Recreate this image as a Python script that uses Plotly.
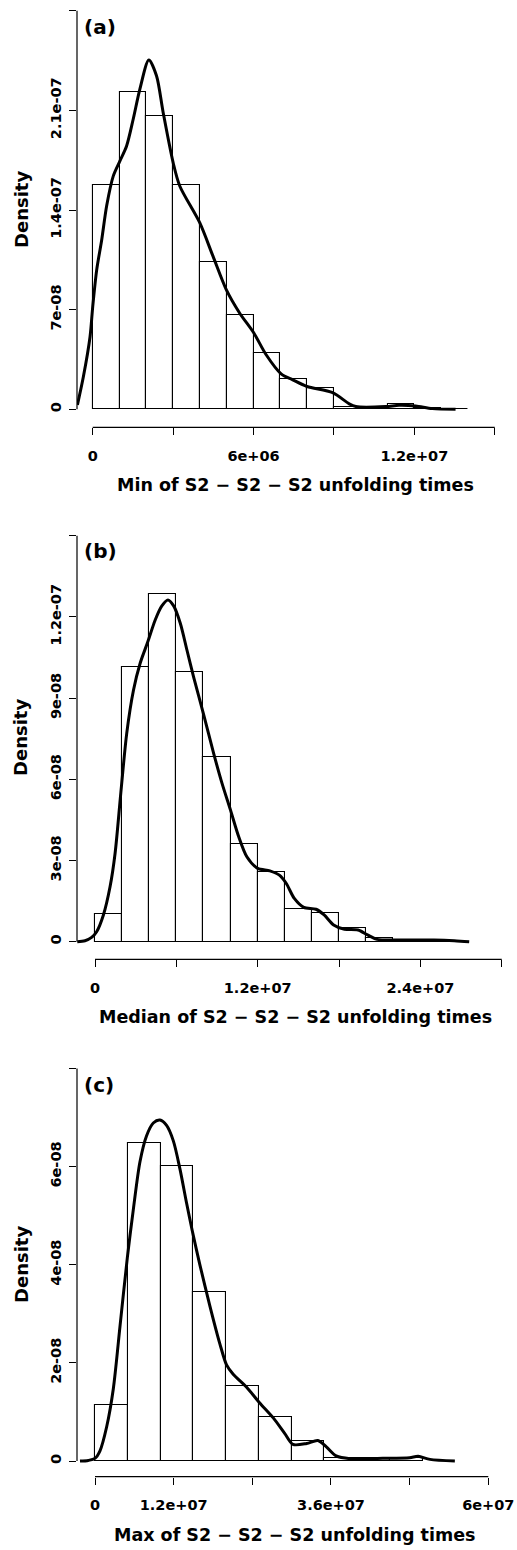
import plotly.graph_objects as go

W, H = 517, 1550

# ---------------- data ----------------
# Panel (a): Min of S2-S2-S2 unfolding times
a_bin_width = 1e6
a_bin_left = [0, 1e6, 2e6, 3e6, 4e6, 5e6, 6e6, 7e6, 8e6, 9e6, 10e6, 11e6, 12e6, 13e6]
a_density_hist = [1.576e-7, 2.227e-7, 2.062e-7, 1.576e-7, 1.036e-7, 6.65e-8, 3.99e-8,
                  2.14e-8, 1.48e-8, 1.5e-9, 0.0, 4.0e-9, 1.0e-9, 5e-10]
a_kde_x = [-0.57e6, -0.347e6, -0.099e6, 0.0, 0.149e6, 0.335e6, 0.521e6, 0.769e6, 1.016e6,
           1.264e6, 1.512e6, 1.76e6, 2.095e6, 2.38e6, 2.628e6, 3.0e6, 3.248e6, 3.992e6,
           4.487e6, 4.983e6, 5.479e6, 6.012e6, 6.471e6, 7.029e6, 7.462e6, 7.995e6, 8.95e6,
           9.57e6, 9.818e6, 10.933e6, 11.429e6, 12.049e6, 12.669e6, 13.537e6]
a_kde_y = [3.1e-9, 2.3e-8, 5.1e-8, 7.2e-8, 9.8e-8, 1.19e-7, 1.43e-7, 1.64e-7, 1.745e-7,
           1.85e-7, 2.04e-7, 2.25e-7, 2.455e-7, 2.344e-7, 2.086e-7, 1.734e-7, 1.569e-7,
           1.311e-7, 1.076e-7, 8.41e-8, 6.77e-8, 5.36e-8, 3.83e-8, 2.49e-8, 2.07e-8, 1.6e-8,
           1.17e-8, 3.8e-9, 1.9e-9, 1.9e-9, 2.8e-9, 2.3e-9, 4.7e-10, 0.0]
a_xticks = [0, 3e6, 6e6, 9e6, 12e6, 15e6]
a_xticktext = ["0", "", "6e+06", "", "1.2e+07", ""]
a_yticks = [0, 7e-8, 1.4e-7, 2.1e-7, 2.8e-7]
a_yticktext = ["0", "7e-08", "1.4e-07", "2.1e-07", ""]

# Panel (b): Median
b_bin_width = 2e6
b_bin_left = [0, 2e6, 4e6, 6e6, 8e6, 10e6, 12e6, 14e6, 16e6, 18e6, 20e6, 22e6, 24e6]
b_density_hist = [1.01e-8, 1.016e-7, 1.284e-7, 9.98e-8, 6.84e-8, 3.61e-8, 2.59e-8,
                  1.2e-8, 1.07e-8, 5.2e-9, 1.2e-9, 6e-10, 6e-10]
b_kde_x = [-1.307e6, -0.74e6, -0.25e6, 0.12e6, 0.62e6, 1.11e6, 1.48e6, 1.9e6, 2.34e6,
           2.84e6, 3.33e6, 3.9e6, 4.44e6, 4.93e6, 5.38e6, 5.8e6, 6.29e6, 6.78e6, 7.27e6,
           7.99e6, 8.75e6, 9.37e6, 9.99e6, 10.6e6, 11.2e6, 12.0e6, 12.9e6, 13.6e6, 14.1e6,
           14.7e6, 15.4e6, 16.3e6, 16.9e6, 17.6e6, 18.4e6, 19.4e6, 20.1e6, 20.8e6, 22.6e6,
           25.0e6, 26.5e6, 27.6e6]
b_kde_y = [0.0, 3.7e-10, 1.6e-9, 3.7e-9, 9.9e-9, 2.03e-8, 3.26e-8, 5.48e-8, 7.7e-8,
           9.3e-8, 1.029e-7, 1.109e-7, 1.189e-7, 1.241e-7, 1.263e-7, 1.241e-7, 1.177e-7,
           1.078e-7, 9.79e-8, 8.44e-8, 6.96e-8, 5.85e-8, 4.87e-8, 3.88e-8, 3.14e-8, 2.71e-8,
           2.62e-8, 2.46e-8, 2.16e-8, 1.6e-8, 1.27e-8, 1.2e-8, 9.9e-9, 6.2e-9, 4.6e-9,
           4.3e-9, 2.5e-9, 8.6e-10, 6.2e-10, 6.2e-10, 3.7e-10, 0.0]
b_xticks = [0, 6e6, 12e6, 18e6, 24e6, 30e6]
b_xticktext = ["0", "", "1.2e+07", "", "2.4e+07", ""]
b_yticks = [0, 3e-8, 6e-8, 9e-8, 1.2e-7, 1.5e-7]
b_yticktext = ["0", "3e-08", "6e-08", "9e-08", "1.2e-07", ""]

# Panel (c): Max
c_bin_width = 5e6
c_bin_left = [0, 5e6, 10e6, 15e6, 20e6, 25e6, 30e6, 35e6, 40e6, 45e6]
c_density_hist = [1.137e-8, 6.477e-8, 6.014e-8, 3.439e-8, 1.523e-8, 8.91e-9, 4.0e-9,
                  5.6e-10, 5.6e-10, 7e-10]
c_kde_x = [-2.29e6, -1.02e6, 0.0, 0.76e6, 1.78e6, 2.79e6, 3.81e6, 4.93e6, 5.84e6, 6.86e6,
           7.87e6, 8.89e6, 9.91e6, 10.92e6, 11.94e6, 12.95e6, 13.97e6, 14.83e6, 16.0e6,
           17.53e6, 19.05e6, 20.07e6, 21.08e6, 23.1e6, 25.1e6, 27.2e6, 28.96e6, 30.2e6,
           32.3e6, 34.0e6, 35.3e6, 36.8e6, 38.9e6, 43.9e6, 48.0e6, 49.3e6, 51.1e6, 54.9e6]
c_kde_y = [0.0, 1.4e-10, 5.6e-10, 2.1e-9, 7.0e-9, 1.47e-8, 2.74e-8, 4.14e-8, 5.12e-8,
           6.1e-8, 6.63e-8, 6.89e-8, 6.95e-8, 6.84e-8, 6.53e-8, 5.96e-8, 5.26e-8, 4.7e-8,
           4.0e-8, 3.16e-8, 2.39e-8, 1.96e-8, 1.77e-8, 1.51e-8, 1.19e-8, 8.8e-9, 5.6e-9,
           3.4e-9, 3.6e-9, 4.2e-9, 2.9e-9, 1.05e-9, 4.9e-10, 5.6e-10, 7e-10, 9.8e-10,
           3.5e-10, 0.0]
c_xticks = [0, 12e6, 24e6, 36e6, 48e6, 60e6]
c_xticktext = ["0", "1.2e+07", "", "3.6e+07", "", "6e+07"]
c_yticks = [0, 2e-8, 4e-8, 6e-8, 8e-8]
c_yticktext = ["0", "2e-08", "4e-08", "6e-08", ""]

panel_tags = ["(a)", "(b)", "(c)"]
x_titles = ["Min of S2 \u2212 S2 \u2212 S2 unfolding times",
            "Median of S2 \u2212 S2 \u2212 S2 unfolding times",
            "Max of S2 \u2212 S2 \u2212 S2 unfolding times"]
y_title = "Density"

panels = [
    dict(bl=a_bin_left, bw=a_bin_width, bh=a_density_hist, kx=a_kde_x, ky=a_kde_y,
         xt=a_xticks, xtt=a_xticktext, yt=a_yticks, ytt=a_yticktext),
    dict(bl=b_bin_left, bw=b_bin_width, bh=b_density_hist, kx=b_kde_x, ky=b_kde_y,
         xt=b_xticks, xtt=b_xticktext, yt=b_yticks, ytt=b_yticktext),
    dict(bl=c_bin_left, bw=c_bin_width, bh=c_density_hist, kx=c_kde_x, ky=c_kde_y,
         xt=c_xticks, xtt=c_xticktext, yt=c_yticks, ytt=c_yticktext),
]

# ---------------- layout geometry (pixels) ----------------
geom = [
    dict(px=(77, 513), py=(0, 427.3), xr=(-0.586e6, 15.68e6), yr=(-1.265e-8, 2.876e-7)),
    dict(px=(77, 513), py=(510, 959.3), xr=(-1.328e6, 30.83e6), yr=(-6.5e-9, 1.5953e-7)),
    dict(px=(77, 513), py=(1050, 1476.6), xr=(-2.746e6, 63.77e6), yr=(-3.158e-9, 8.377e-8)),
]

FONT = "DejaVu Sans"
fig = go.Figure()
layout = dict(width=W, height=H, margin=dict(l=0, r=0, t=0, b=0),
              paper_bgcolor="white", plot_bgcolor="white", showlegend=False)
shapes = []
annotations = []


def fx(p):
    return p / W


def fy(p):
    return 1 - p / H


for i, (p, g) in enumerate(zip(panels, geom)):
    n = "" if i == 0 else str(i + 1)
    xa, ya = "x" + n, "y" + n
    centers = [l + p["bw"] / 2 for l in p["bl"]]
    fig.add_trace(go.Bar(x=centers, y=p["bh"], width=p["bw"], xaxis=xa, yaxis=ya,
                         marker=dict(color="white", line=dict(color="black", width=1.1))))
    fig.add_trace(go.Scatter(x=p["kx"], y=p["ky"], mode="lines", xaxis=xa, yaxis=ya,
                             line=dict(color="black", width=3, shape="spline", smoothing=0.8)))
    common = dict(showgrid=False, zeroline=False, showline=False, ticks="outside",
                  ticklen=7, tickwidth=1.2, tickcolor="black",
                  tickfont=dict(family=FONT, size=14.5, color="black", weight="bold"),
                  tickmode="array")
    layout["xaxis" + n] = dict(common, domain=[fx(g["px"][0]), fx(g["px"][1])],
                               range=list(g["xr"]), anchor=ya, tickvals=p["xt"],
                               ticktext=p["xtt"], tickangle=0, ticklabelstandoff=8)
    layout["yaxis" + n] = dict(common, domain=[fy(g["py"][1]), fy(g["py"][0])],
                               range=list(g["yr"]), anchor=xa, tickvals=p["yt"],
                               ticktext=p["ytt"], tickangle=-90, ticklabelstandoff=2)
    # R-style axis lines spanning first..last tick
    shapes.append(dict(type="line", xref=xa, yref=ya + " domain", x0=p["xt"][0], x1=p["xt"][-1],
                       y0=0, y1=0, line=dict(color="black", width=1.2)))
    shapes.append(dict(type="line", xref=xa + " domain", yref=ya, x0=0, x1=0,
                       y0=p["yt"][0], y1=p["yt"][-1], line=dict(color="black", width=1.2)))
    y_bottom = g["py"][1]
    annotations.append(dict(text=x_titles[i], xref="paper", yref="paper",
                            x=fx((g["px"][0] + g["px"][1]) / 2), y=fy(y_bottom + 58),
                            xanchor="center", yanchor="middle", showarrow=False,
                            font=dict(family=FONT, size=17.5, color="black", weight="bold")))
    tag_y = [27, 551, 1085][i]
    dens_y = [210, 738, 1265][i]
    annotations.append(dict(text=panel_tags[i], xref="paper", yref="paper",
                            x=fx(82), y=fy(tag_y), xanchor="left", yanchor="middle",
                            showarrow=False,
                            font=dict(family=FONT, size=20, color="black", weight="bold")))
    annotations.append(dict(text=y_title, xref="paper", yref="paper", textangle=-90,
                            x=fx(21), y=fy(dens_y), xanchor="center", yanchor="middle",
                            showarrow=False,
                            font=dict(family=FONT, size=18, color="black", weight="bold")))

layout["shapes"] = shapes
layout["annotations"] = annotations
layout["bargap"] = 0
fig.update_layout(**layout)
fig.write_html("out.html")
